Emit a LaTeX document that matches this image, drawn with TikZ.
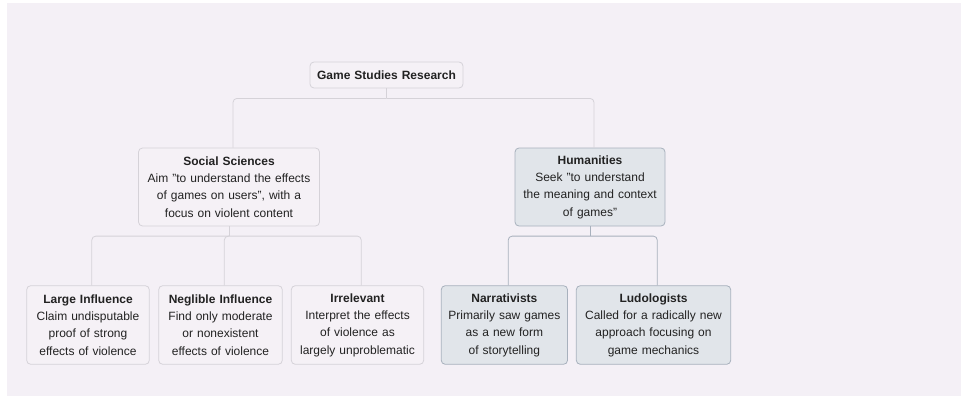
\documentclass[tikz,border=0pt]{standalone}
\usepackage{fontspec}
\setmainfont{Liberation Sans}
\definecolor{canvas}{HTML}{F4F0F6}
\definecolor{socfill}{HTML}{F5F1F6}
\definecolor{socline}{HTML}{D5D2D8}
\definecolor{humfill}{HTML}{E1E5EA}
\definecolor{humline}{HTML}{A8B1BD}
\definecolor{inktext}{HTML}{222222}
\begin{document}
\begin{tikzpicture}[x=1pt,y=-1pt,
    topic/.style = {draw=socline, fill=socfill,
        rounded corners=4pt, line width=0.8pt,
        align=center, inner sep=0pt, text=inktext,
        font=\fontsize{12}{17.3}\selectfont},
    humtopic/.style = {topic, draw=humline, fill=humfill},
    link/.style = {draw=socline, line width=0.8pt, rounded corners=4pt},
    humlink/.style = {link, draw=humline}]

\useasboundingbox (0,0) rectangle (961,396);
\fill[white] (0,0) rectangle (961,396);
\fill[canvas] (7,3) rectangle (961,396);

% Root
\node[topic, text width=153pt, minimum height=26pt] (root) at (386.5,75)
    {\textbf{Game Studies Research}};

% Social Sciences branch
\node[topic, text width=181pt, minimum height=78pt] (soc) at (229,187)
    {\textbf{Social Sciences}\\Aim "to understand the effects\\of games on users", with a\\focus on violent content};
\node[topic, text width=122.6pt, minimum height=78.6pt] (large) at (88,325)
    {\textbf{Large Influence}\\Claim undisputable\\proof of strong\\effects of violence};
\node[topic, text width=123.6pt, minimum height=78.6pt] (negl) at (220.5,325)
    {\textbf{Neglible Influence}\\Find only moderate\\or nonexistent\\effects of violence};
\node[topic, text width=132.4pt, minimum height=78.6pt] (irr) at (357.5,325)
    {\textbf{Irrelevant}\\Interpret the effects\\of violence as\\largely unproblematic};

% Humanities branch
\node[humtopic, text width=150pt, minimum height=78pt] (hum) at (590,187)
    {\textbf{Humanities}\\Seek "to understand\\the meaning and context\\of games"};
\node[humtopic, text width=126.3pt, minimum height=78.6pt] (narr) at (504.4,325)
    {\textbf{Narrativists}\\Primarily saw games\\as a new form\\of storytelling};
\node[humtopic, text width=154.4pt, minimum height=78.6pt] (ludo) at (653.5,325)
    {\textbf{Ludologists}\\Called for a radically new\\approach focusing on\\game mechanics};

% Connectors
\draw[link] (root.south) -- ++(0,10) coordinate (rootbar);
\draw[link] (rootbar) -| ([xshift=4pt]soc.north);
\draw[link] (rootbar) -| ([xshift=4pt]hum.north);

\draw[link] (soc.south) -- ++(0,9.7) coordinate (socbar);
\foreach \leaf in {large,negl,irr}
    \draw[link] (socbar) -| ([xshift=3.8pt]\leaf.north);

\draw[humlink] (hum.south) -- ++(0,9.7) coordinate (humbar);
\foreach \leaf in {narr,ludo}
    \draw[humlink] (humbar) -| ([xshift=3.8pt]\leaf.north);

\end{tikzpicture}
\end{document}
